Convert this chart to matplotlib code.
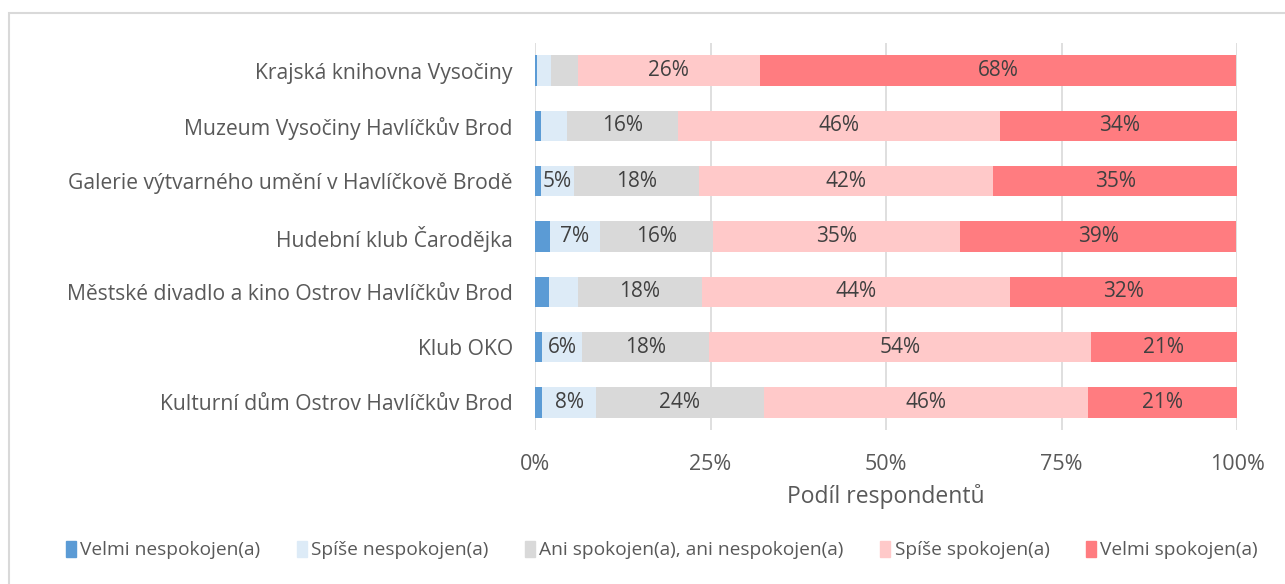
import matplotlib
matplotlib.use("Agg")
import matplotlib.pyplot as plt
from matplotlib.patches import Rectangle

categories = [
    "Krajská knihovna Vysočiny",
    "Muzeum Vysočiny Havlíčkův Brod",
    "Galerie výtvarného umění v Havlíčkově Brodě",
    "Hudební klub Čarodějka",
    "Městské divadlo a kino Ostrov Havlíčkův Brod",
    "Klub OKO",
    "Kulturní dům Ostrov Havlíčkův Brod",
]
series_names = [
    "Velmi nespokojen(a)",
    "Spíše nespokojen(a)",
    "Ani spokojen(a), ani nespokojen(a)",
    "Spíše spokojen(a)",
    "Velmi spokojen(a)",
]
velmi_nespokojen = [0.3, 0.9, 0.9, 2.1, 2.0, 1.0, 1.0]
spise_nespokojen = [2.0, 3.7, 4.6, 7.1, 4.1, 5.7, 7.7]
ani_ani = [3.8, 15.7, 17.9, 16.2, 17.7, 18.1, 23.9]
spise_spokojen = [25.9, 46.0, 41.9, 35.2, 43.9, 54.4, 46.2]
velmi_spokojen = [67.9, 33.8, 34.8, 39.3, 32.3, 20.8, 21.2]
xticks = [0, 25, 50, 75, 100]
xtick_labels = ["0%", "25%", "50%", "75%", "100%"]

colors = ["#5B9BD5", "#DDEBF7", "#D9D9D9", "#FFC9C9", "#FF7C80"]
series = [velmi_nespokojen, spise_nespokojen, ani_ani, spise_spokojen, velmi_spokojen]

plt.rcParams['font.family'] = ['Open Sans', 'DejaVu Sans']

W, H = 1285, 584
fig = plt.figure(figsize=(W / 100, H / 100), dpi=100)
ax = fig.add_axes([535 / W, 1 - 430 / H, (1237 - 535) / W, (430 - 43) / H])

# frame around chart (top and left visible)
fig.patches.append(Rectangle((9 / W, -0.1), 1.2, 1 - 13 / H + 0.1,
                             transform=fig.transFigure, fill=False,
                             edgecolor="#D9D9D9", linewidth=1.5, zorder=0))

n = len(categories)
ypos = list(range(n))
left = [0.0] * n
for vals, col, name in zip(series, colors, series_names):
    ax.barh(ypos, vals, left=left, height=0.55, color=col, label=name, zorder=3)
    for i, v in enumerate(vals):
        if round(v) >= 5:
            ax.text(left[i] + v / 2, ypos[i], f"{round(v)}%", ha="center", va="center",
                    fontsize=15, color="#404040", zorder=4)
    left = [l + v for l, v in zip(left, vals)]

ax.set_xlim(0, 100)
ax.set_ylim(n - 0.5, -0.5)
ax.set_yticks(ypos)
ax.set_yticklabels(categories, fontsize=15.2, color="#595959")
ax.set_xticks(xticks)
ax.set_xticklabels(xtick_labels, fontsize=15.5, color="#595959")
ax.tick_params(axis="both", length=0)
ax.tick_params(axis="y", pad=16)
ax.tick_params(axis="x", pad=17)
ax.grid(axis="x", color="#D9D9D9", linewidth=1.2, zorder=0)
for s in ax.spines.values():
    s.set_visible(False)
ax.set_xlabel("Podíl respondentů", fontsize=16.5, color="#595959", labelpad=7)

handles = [Rectangle((0, 0), 1, 1, color=c) for c in colors]
fig.legend(handles, series_names, loc="center", bbox_to_anchor=(662 / W, 1 - 550 / H),
           ncol=5, frameon=False, fontsize=13.8, handlelength=0.5, handleheight=0.9,
           handletextpad=0.25, columnspacing=1.9, labelcolor="#595959")

fig.savefig("out.png", dpi=100)
